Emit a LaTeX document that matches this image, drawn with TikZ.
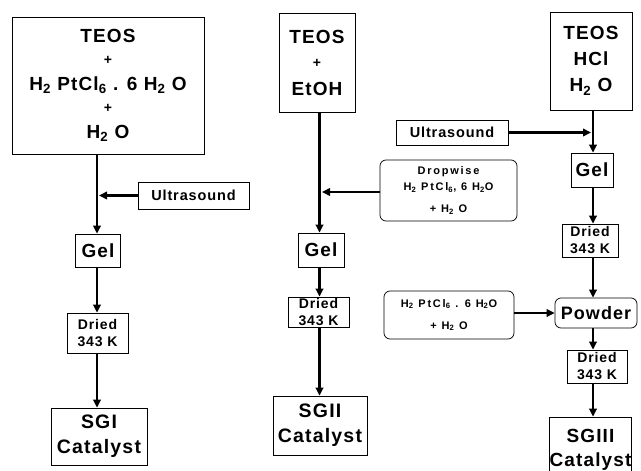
\documentclass[tikz,border=0pt]{standalone}
\usepackage{fontspec}
\setmainfont{Liberation Sans}[LetterSpace=6]
\usetikzlibrary{arrows.meta}
\newcommand\sbs[1]{\textsubscript{#1}}
\newcommand\plus{{\fontsize{14}{14}\selectfont\raisebox{1.5pt}{+}}}
\newcommand\fbig{\bfseries\fontsize{19}{24}\selectfont}
\newcommand\fmid{\bfseries\fontsize{14}{17}\selectfont}
\newcommand\fcat{\bfseries\fontsize{19.5}{25}\selectfont}
\newcommand\fsmall{\bfseries\addfontfeature{LetterSpace=16}\fontsize{11}{16}\selectfont}
\tikzset{
  box/.style={draw, line width=0.7pt, inner sep=0pt, align=center},
  rbox/.style={box, rounded corners=6pt},
  flow/.style={line width=2.8pt, -{Triangle[length=8pt,width=7.5pt]}},
}
\begin{document}
\begin{tikzpicture}[x=1pt,y=-1pt]
\useasboundingbox (0,0) rectangle (641,471);
% ---------- column 1 ----------
\node[box, minimum width=192, minimum height=137, font=\fbig] (t1) at (108,85.5)
  {TEOS\\\plus\\H\sbs{2} PtCl\sbs{6} . 6 H\sbs{2} O\\\plus\\H\sbs{2} O};
\node[box, minimum width=111, minimum height=27, font=\bfseries\fontsize{14.5}{17}\selectfont] (u1) at (193.5,195.5) {Ultrasound};
\node[box, minimum width=45, minimum height=33, font=\fbig] (g1) at (98,250.5) {Gel};
\node[box, minimum width=61, minimum height=40, font=\fmid] (d1) at (97.5,333) {Dried\\343 K};
\node[box, minimum width=96, minimum height=57, font=\fcat] (s1) at (99,436.5) {SGI\\Catalyst};
\coordinate (c1) at (97,0);
\coordinate (j1) at (99,195.5);
\draw[flow] (t1.south -| c1) -- (g1.north -| c1);
\draw[flow] (u1.west) -- (j1);
\draw[flow] (g1.south -| c1) -- (d1.north -| c1);
\draw[flow] (d1.south -| c1) -- (s1.north -| c1);
% ---------- column 2 ----------
\node[box, minimum width=76, minimum height=99, font=\bfseries\fontsize{19}{26}\selectfont] (t2) at (317,62.5)
  {TEOS\\\plus\\EtOH};
\node[rbox, minimum width=137, minimum height=61, font=\fsmall] (dw) at (448.5,190.5)
  {Dropwise\\H\sbs{2} PtCl\sbs{6}, 6 H\sbs{2}O\\[6pt]+ H\sbs{2} O};
\node[box, minimum width=46, minimum height=34, font=\fbig] (g2) at (321,250) {Gel};
\node[box, minimum width=61, minimum height=30, font=\fmid] (d2) at (318.5,312) {Dried\\343 K};
\node[box, minimum width=94, minimum height=59, font=\fcat] (s2) at (320,425.5) {SGII\\Catalyst};
\coordinate (c2) at (319.5,0);
\coordinate (j2) at (322,192);
\draw[flow] (t2.south -| c2) -- (g2.north -| c2);
\draw[flow] (dw.west |- j2) -- (j2);
\draw[flow] (g2.south -| c2) -- (d2.north -| c2);
\draw[flow] (d2.south -| c2) -- (s2.north -| c2);
% ---------- column 3 ----------
\node[box, minimum width=82, minimum height=98, font=\bfseries\fontsize{19}{26}\selectfont] (t3) at (591,61)
  {TEOS\\HCl\\H\sbs{2} O};
\node[box, minimum width=112, minimum height=25, font=\bfseries\fontsize{14.5}{17}\selectfont] (u3) at (452,132.5) {Ultrasound};
\node[box, minimum width=42, minimum height=34, font=\fbig] (g3) at (592,170) {Gel};
\node[box, minimum width=56, minimum height=33, font=\fmid] (d3) at (590,240.5) {Dried\\343 K};
\node[rbox, minimum width=130, minimum height=48, font=\bfseries\addfontfeature{LetterSpace=16}\fontsize{11}{22}\selectfont] (h2) at (449,315)
  {H\sbs{2} PtCl\sbs{6} . 6 H\sbs{2}O\\+ H\sbs{2} O};
\node[rbox, minimum width=82, minimum height=30, font=\bfseries\fontsize{18}{24}\selectfont] (pw) at (596,313) {Powder};
\node[box, minimum width=60, minimum height=33, font=\fmid] (d4) at (597,366.5) {Dried\\343 K};
\node[box, minimum width=75, minimum height=66, font=\bfseries\fontsize{19}{24}\selectfont] (s3) at (590.5,450) {SGIII\\Catalyst};
\coordinate (c3) at (593,0);
\coordinate (j3) at (591,132.5);
\draw[flow] (t3.south -| c3) -- (g3.north -| c3);
\draw[flow] (u3.east) -- (j3);
\draw[flow] (g3.south -| c3) -- (d3.north -| c3);
\draw[flow] (d3.south -| c3) -- (pw.north -| c3);
\draw[flow] (h2.east |- pw.west) -- (pw.west);
\draw[flow] (pw.south -| c3) -- (d4.north -| c3);
\draw[flow] (d4.south -| c3) -- (s3.north -| c3);
\end{tikzpicture}
\end{document}
